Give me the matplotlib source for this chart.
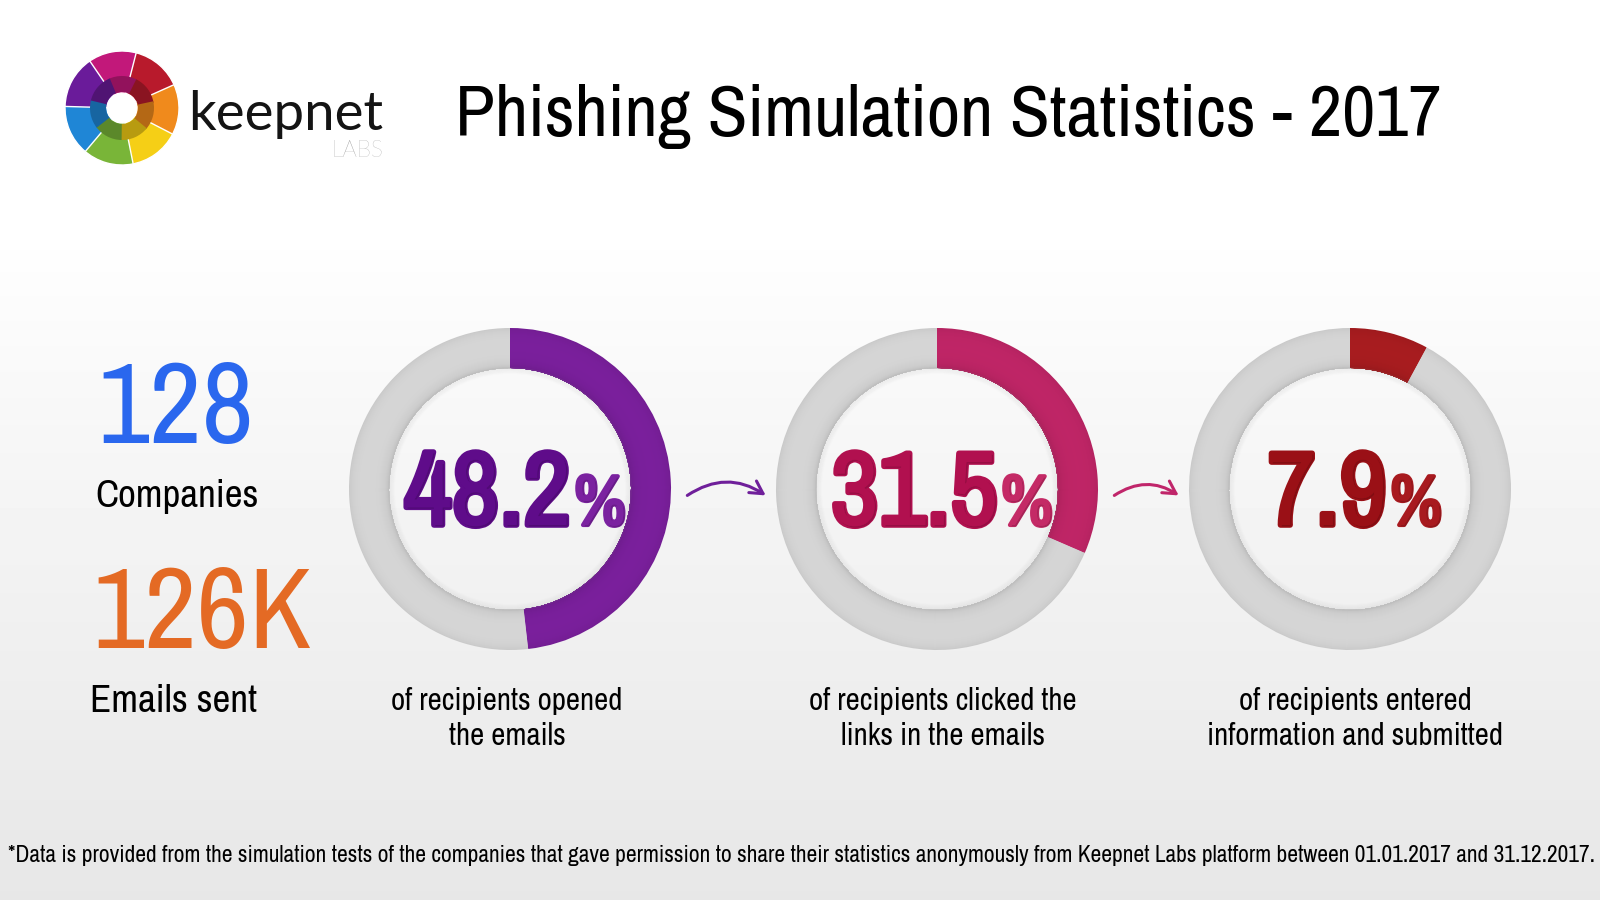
import numpy as np
import matplotlib.pyplot as plt
from matplotlib import font_manager
from matplotlib.font_manager import FontProperties
from matplotlib.patches import Wedge, Circle, FancyArrowPatch
from matplotlib.colors import to_rgb
import matplotlib.patheffects as pe

title = 'Phishing Simulation Statistics - 2017'
stat_values = ['128', '126K']
stat_labels = ['Companies', 'Emails sent']
stat_colors = ['#2a67ee', '#e46a24']

pct_values = [48.2, 31.5, 7.9]
pct_lines = [['of recipients opened', 'the emails'],
             ['of recipients clicked the', 'links in the emails'],
             ['of recipients entered', 'information and submitted']]
ring_colors = ['#7a1f9c', '#bf2566', '#a81c1f']
digit_colors = ['#5f0c8a', '#b1104f', '#9a1016']
sign_colors = ['#7b22a0', '#c42a66', '#a81a1f']
arrow_colors = ['#6f1f9a', '#c0256a']

footnote = ('*Data is provided from the simulation tests of the companies that gave permission '
            'to share their statistics anonymously from Keepnet Labs platform between '
            '01.01.2017 and 31.12.2017.')

# fonts: the original uses a condensed face, look for one (regular + bold)
cond_stretch = ('condensed', 'semi-condensed', 'extra-condensed', 'ultra-condensed')


def wnum(f):
    w = f.weight
    return w if isinstance(w, (int, float)) else font_manager.weight_dict.get(w, 400)


def is_cond(f):
    return 'Narrow' in f.name or 'Condensed' in f.name or str(f.stretch) in cond_stretch


cands = [f for f in font_manager.fontManager.ttflist if is_cond(f) and f.style == 'normal']
named = [f for f in cands if 'Narrow' in f.name or 'Condensed' in f.name]
pool = named or cands
fake_bold = False
if pool:
    reg_face = min(pool, key=lambda f: abs(wnum(f) - 400))
    same = [f for f in pool if f.name == reg_face.name and wnum(f) >= 600]
    if same:
        bold_face = min(same, key=lambda f: abs(wnum(f) - 700))
    else:
        bold_face, fake_bold = reg_face, True
    reg_fp = FontProperties(fname=reg_face.fname)
    bold_fp = FontProperties(fname=bold_face.fname)
else:
    reg_fp = FontProperties(family='Roboto')
    bold_fp = FontProperties(family='Roboto', weight='bold')


def nf(bold=False):
    return (bold_fp if bold else reg_fp).copy()


W, H = 1600, 900
fig = plt.figure(figsize=(16, 9), dpi=100)
ax = fig.add_axes([0, 0, 1, 1])
ax.set_xlim(0, W)
ax.set_ylim(H, 0)
ax.axis('off')
renderer = fig.canvas.get_renderer()

# background: white on top, soft grey towards the bottom
yy = np.arange(H)
shade = np.where(yy < 230, 1.0, 1.0 - 0.095 * ((yy - 230) / (H - 230)) ** 0.9)
bg = np.repeat(shade[:, None], 2, axis=1)
ax.imshow(bg, cmap='gray', vmin=0, vmax=1, extent=[0, W, H, 0], aspect='auto', zorder=0)


def fit_text(x, y, s, width, ha='left', **kw):
    t = ax.text(x, y, s, ha=ha, va='baseline', **kw)
    t.set_fontsize(20)
    w = t.get_window_extent(renderer).width
    t.set_fontsize(20 * width / w)
    return t


def shaded(color, f):
    c = np.array(to_rgb(color))
    return tuple(np.clip(c * f, 0, 1))


# logo
logo_c = (122, 108)
logo_cols = ['#c2187a', '#b81a2c', '#f08a1c', '#f5cf16', '#79b538', '#1f86d6', '#6a1b9a']
for k, col in enumerate(logo_cols):
    mid = 100 - k * 360 / 7          # screen angle, counter-clockwise
    a1, a2 = -(mid + 27), -(mid - 27)
    ax.add_patch(Wedge(logo_c, 57, a1, a2, width=42, facecolor=col, edgecolor='white', lw=1.0, zorder=3))
    ax.add_patch(Wedge(logo_c, 32, a1 + 12, a2 + 12, width=16, facecolor=shaded(col, 0.75),
                       edgecolor='none', zorder=4))
fit_text(188, 130, 'keepnet', 196, color='#141414', family='Lato', zorder=5)
fit_text(331, 157, 'LABS', 52, color='#9c9c9c', family='Lato', fontweight='light', zorder=5)

# title
fit_text(455, 136, title, 987, color='black', fontproperties=nf(), zorder=5)

# left hand counts
stat_x = [97, 92]
stat_base = [443, 648]
lab_x = [95, 90]
lab_base = [507, 712]
big = fit_text(stat_x[1], stat_base[1], stat_values[1], 220, color=stat_colors[1], fontproperties=nf())
ax.text(stat_x[0], stat_base[0], stat_values[0], color=stat_colors[0],
        fontproperties=nf(), va='baseline').set_fontsize(big.get_fontsize())
lab = fit_text(lab_x[0], lab_base[0], stat_labels[0], 163, color='black', fontproperties=nf())
ax.text(lab_x[1], lab_base[1], stat_labels[1], color='black',
        fontproperties=nf(), va='baseline').set_fontsize(lab.get_fontsize())

# donuts (outer bands drawn first, each inner band painted on top -> no seams)
centers = [510, 937, 1350]
cy = 489
R, r_in = 161, 121
n = 40
grey = '#d6d6d6'
for cx, p, col in zip(centers, pct_values, ring_colors):
    split = -90 + 360 * p / 100
    for i in range(n, 0, -1):
        ro = r_in + (R - r_in) * i / n
        t = (i - 0.5) / n
        f = 1 - 0.10 * np.exp(-t / 0.12) - 0.06 * np.exp(-(1 - t) / 0.12)
        ax.add_patch(Wedge((cx, cy), ro, -90, split, width=ro - r_in,
                           facecolor=shaded(col, f), edgecolor='none', zorder=2))
        ax.add_patch(Wedge((cx, cy), ro, split, 270, width=ro - r_in,
                           facecolor=shaded(grey, f), edgecolor='none', zorder=2))
    # soft shadow on the inside
    for j in range(6):
        ax.add_patch(Circle((cx, cy), r_in - j, facecolor='none', edgecolor='#9a9a9a',
                            lw=1.2, alpha=0.09 - 0.014 * j, zorder=2))

# percentages inside the rings
probe = ax.text(0, 0, '48.2', fontproperties=nf(True))
probe.set_fontsize(20)
digit_size = 20 * 167 / probe.get_window_extent(renderer).width
probe.remove()
sign_size = digit_size * 0.68
for cx, p, dc, sc in zip(centers, pct_values, digit_colors, sign_colors):
    s = f'{p:.1f}'
    eff_d = [pe.withSimplePatchShadow(offset=(1, -1), shadow_rgbFace='#000000', alpha=0.15)]
    eff_g = list(eff_d)
    if fake_bold:
        eff_d = [pe.Stroke(linewidth=4, foreground=dc)] + eff_d + [pe.Normal()]
        eff_g = [pe.Stroke(linewidth=3, foreground=sc)] + eff_g + [pe.Normal()]
    d = ax.text(0, 0, s, fontproperties=nf(True), color=dc,
                va='baseline', zorder=6, path_effects=eff_d)
    d.set_fontsize(digit_size)
    g = ax.text(0, 0, '%', fontproperties=nf(True), color=sc,
                va='baseline', zorder=6, path_effects=eff_g)
    g.set_fontsize(sign_size)
    wd = d.get_window_extent(renderer).width
    wg = g.get_window_extent(renderer).width
    x0 = cx + 5 - (wd + 3 + wg) / 2
    d.set_position((x0, 525))
    g.set_position((x0 + wd + 3, 525))

# arrows between rings
for k, col in enumerate(arrow_colors):
    a = FancyArrowPatch((centers[k] + R + 14, cy + 8), (centers[k + 1] - R - 8, cy + 8),
                        connectionstyle='arc3,rad=-0.35',
                        arrowstyle='->,head_length=9,head_width=5',
                        color=col, lw=2.2, zorder=5)
    ax.add_patch(a)

# captions under the rings
cap = fit_text(0, 0, pct_lines[1][0], 268, ha='center', fontproperties=nf())
cap_size = cap.get_fontsize()
cap.remove()
cap_dx = [-3, 6, 5]
for cx, dx, lines in zip(centers, cap_dx, pct_lines):
    for yb, line in zip([710, 745], lines):
        tx = ax.text(cx + dx, yb, line, fontproperties=nf(), color='black',
                     ha='center', va='baseline')
        tx.set_fontsize(cap_size)

# footnote
fit_text(8, 862, footnote, 1589, color='black', fontproperties=nf())

fig.savefig('out.png', dpi=100)
